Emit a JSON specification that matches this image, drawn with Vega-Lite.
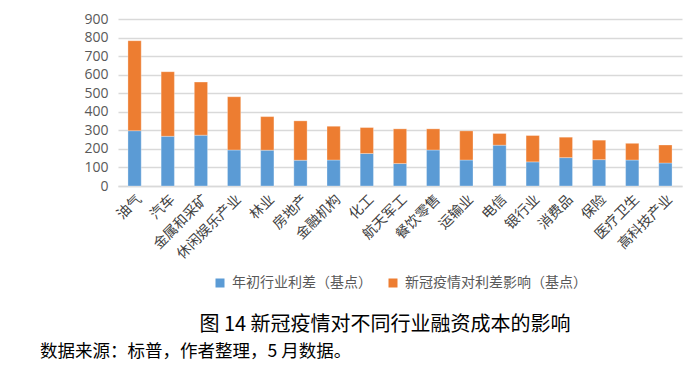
{
  "$schema": "https://vega.github.io/schema/vega-lite/v6.json",
  "background": "white",
  "padding": {"left": 40, "top": 12, "right": 5, "bottom": 5},
  "title": {
    "text": "数据来源：标普，作者整理，5 月数据。",
    "orient": "bottom",
    "anchor": "start",
    "frame": "bounds",
    "font": "Noto Sans CJK SC",
    "fontSize": 17.5,
    "fontWeight": "normal",
    "color": "#000000",
    "offset": 8
  },
  "config": {
    "view": {"stroke": null},
    "font": "Noto Sans CJK SC",
    "legend": {"layout": {"bottom": {"anchor": "middle"}}}
  },
  "resolve": {"scale": {"color": "independent"}, "legend": {"color": "independent"}},
  "data": {
    "values": [
      {"industry": "油气", "series": "年初行业利差（基点）", "k": 1, "value": 298},
      {"industry": "油气", "series": "新冠疫情对利差影响（基点）", "k": 2, "value": 485},
      {"industry": "汽车", "series": "年初行业利差（基点）", "k": 1, "value": 268},
      {"industry": "汽车", "series": "新冠疫情对利差影响（基点）", "k": 2, "value": 348},
      {"industry": "金属和采矿", "series": "年初行业利差（基点）", "k": 1, "value": 274},
      {"industry": "金属和采矿", "series": "新冠疫情对利差影响（基点）", "k": 2, "value": 286},
      {"industry": "休闲娱乐产业", "series": "年初行业利差（基点）", "k": 1, "value": 194},
      {"industry": "休闲娱乐产业", "series": "新冠疫情对利差影响（基点）", "k": 2, "value": 287},
      {"industry": "林业", "series": "年初行业利差（基点）", "k": 1, "value": 193},
      {"industry": "林业", "series": "新冠疫情对利差影响（基点）", "k": 2, "value": 181},
      {"industry": "房地产", "series": "年初行业利差（基点）", "k": 1, "value": 139},
      {"industry": "房地产", "series": "新冠疫情对利差影响（基点）", "k": 2, "value": 212},
      {"industry": "金融机构", "series": "年初行业利差（基点）", "k": 1, "value": 140},
      {"industry": "金融机构", "series": "新冠疫情对利差影响（基点）", "k": 2, "value": 182},
      {"industry": "化工", "series": "年初行业利差（基点）", "k": 1, "value": 175},
      {"industry": "化工", "series": "新冠疫情对利差影响（基点）", "k": 2, "value": 140},
      {"industry": "航天军工", "series": "年初行业利差（基点）", "k": 1, "value": 121},
      {"industry": "航天军工", "series": "新冠疫情对利差影响（基点）", "k": 2, "value": 187},
      {"industry": "餐饮零售", "series": "年初行业利差（基点）", "k": 1, "value": 194},
      {"industry": "餐饮零售", "series": "新冠疫情对利差影响（基点）", "k": 2, "value": 114},
      {"industry": "运输业", "series": "年初行业利差（基点）", "k": 1, "value": 140},
      {"industry": "运输业", "series": "新冠疫情对利差影响（基点）", "k": 2, "value": 157},
      {"industry": "电信", "series": "年初行业利差（基点）", "k": 1, "value": 220},
      {"industry": "电信", "series": "新冠疫情对利差影响（基点）", "k": 2, "value": 63},
      {"industry": "银行业", "series": "年初行业利差（基点）", "k": 1, "value": 130},
      {"industry": "银行业", "series": "新冠疫情对利差影响（基点）", "k": 2, "value": 142},
      {"industry": "消费品", "series": "年初行业利差（基点）", "k": 1, "value": 153},
      {"industry": "消费品", "series": "新冠疫情对利差影响（基点）", "k": 2, "value": 110},
      {"industry": "保险", "series": "年初行业利差（基点）", "k": 1, "value": 142},
      {"industry": "保险", "series": "新冠疫情对利差影响（基点）", "k": 2, "value": 105},
      {"industry": "医疗卫生", "series": "年初行业利差（基点）", "k": 1, "value": 140},
      {"industry": "医疗卫生", "series": "新冠疫情对利差影响（基点）", "k": 2, "value": 90},
      {"industry": "高科技产业", "series": "年初行业利差（基点）", "k": 1, "value": 124},
      {"industry": "高科技产业", "series": "新冠疫情对利差影响（基点）", "k": 2, "value": 97}
    ]
  },
  "vconcat": [
    {
      "title": {
        "text": "图 14 新冠疫情对不同行业融资成本的影响",
        "orient": "bottom",
        "anchor": "middle",
        "frame": "bounds",
        "font": "Noto Sans CJK SC",
        "fontSize": 20,
        "fontWeight": "normal",
        "color": "#000000",
        "offset": 25,
        "dx": 24
      },
      "resolve": {"scale": {"color": "independent"}, "legend": {"color": "independent"}},
      "vconcat": [
        {
          "width": 564,
          "height": 167,
          "mark": {"type": "bar", "stroke": "white", "strokeWidth": 0.5, "strokeOpacity": 0.6},
          "encoding": {
            "x": {
              "field": "industry",
              "type": "nominal",
              "sort": null,
              "scale": {"paddingInner": 0.6, "paddingOuter": 0.3},
              "axis": {
                "title": null,
                "labelAngle": -45,
                "labelFontSize": 14,
                "labelColor": "#404040",
                "labelFont": "Noto Sans CJK SC",
                "labelPadding": 6,
                "ticks": false,
                "domainColor": "#D9D9D9",
                "domainWidth": 1.5,
                "grid": false
              }
            },
            "y": {
              "field": "value",
              "type": "quantitative",
              "stack": "zero",
              "scale": {"domain": [0, 900]},
              "axis": {
                "title": null,
                "values": [0, 100, 200, 300, 400, 500, 600, 700, 800, 900],
                "labelFontSize": 14,
                "labelColor": "#595959",
                "labelFont": "Open Sans",
                "labelPadding": 10,
                "minExtent": 78,
                "ticks": false,
                "domain": false,
                "gridColor": "#D9D9D9",
                "gridWidth": 1.5
              }
            },
            "color": {
              "field": "series",
              "type": "nominal",
              "scale": {
                "domain": ["年初行业利差（基点）", "新冠疫情对利差影响（基点）"],
                "range": ["#5B9BD5", "#ED7D31"]
              },
              "legend": {
                "title": null,
                "orient": "bottom",
                "direction": "horizontal",
                "symbolType": "square",
                "symbolSize": 81,
                "symbolStrokeWidth": 0,
                "labelFontSize": 14,
                "labelLimit": 0,
                "labelOffset": 5,
                "labelColor": "#595959",
                "labelFont": "Noto Sans CJK SC",
                "columnPadding": 14,
                "offset": 14
              }
            },
            "order": {"field": "k", "type": "quantitative"}
          }
        }
      ]
    }
  ]
}
